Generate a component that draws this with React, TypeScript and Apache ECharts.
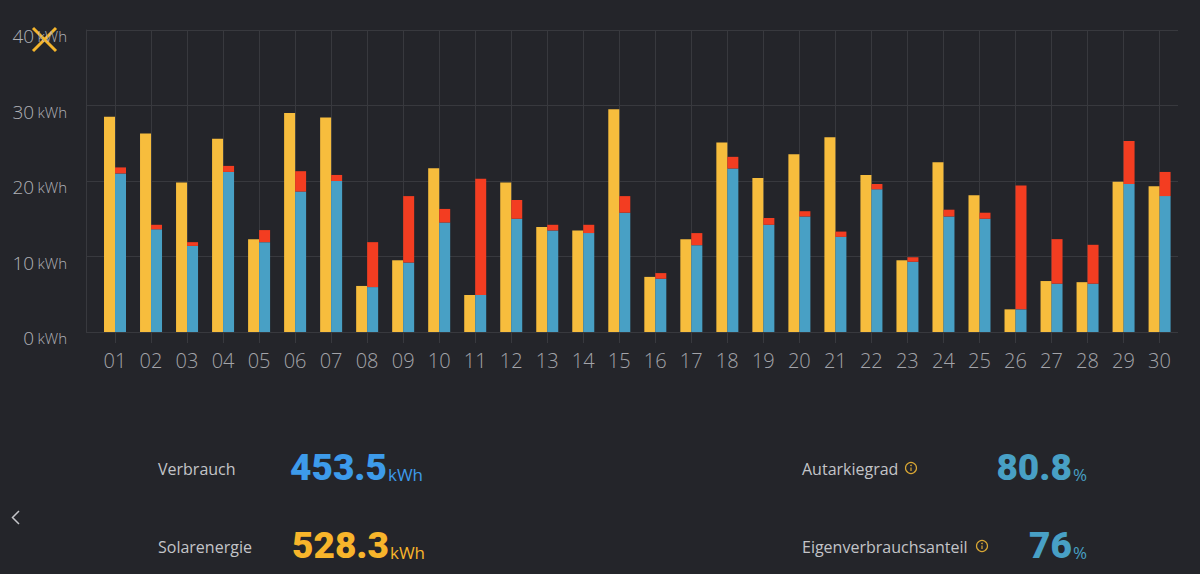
import React, { useEffect, useRef } from "react";
import * as echarts from "echarts";

// Daily energy figures (kWh)
const days = [
  "01", "02", "03", "04", "05", "06", "07", "08", "09", "10",
  "11", "12", "13", "14", "15", "16", "17", "18", "19", "20",
  "21", "22", "23", "24", "25", "26", "27", "28", "29", "30",
];
const solar = [
  28.5, 26.3, 19.8, 25.6, 12.3, 29.0, 28.4, 6.1, 9.5, 21.7,
  4.9, 19.8, 13.9, 13.45, 29.5, 7.3, 12.3, 25.1, 20.4, 23.55,
  25.8, 20.8, 9.5, 22.5, 18.1, 3.0, 6.75, 6.6, 19.9, 19.3,
];
const selfUse = [
  21.0, 13.6, 11.4, 21.2, 11.9, 18.6, 20.0, 5.95, 9.2, 14.5,
  4.9, 15.0, 13.45, 13.1, 15.8, 7.05, 11.5, 21.65, 14.2, 15.3,
  12.6, 18.9, 9.3, 15.3, 15.0, 3.0, 6.4, 6.4, 19.6, 18.0,
];
const consumption = [
  21.8, 14.2, 11.9, 22.0, 13.5, 21.3, 20.8, 11.9, 18.0, 16.3,
  20.3, 17.5, 14.2, 14.2, 18.0, 7.8, 13.1, 23.2, 15.1, 16.0,
  13.3, 19.6, 9.9, 16.2, 15.8, 19.4, 12.3, 11.55, 25.3, 21.2,
];
const yMax = 40;
const yStep = 10;
const unit = "kWh";

// Monthly summary
const totalConsumption = "453.5";
const totalSolar = "528.3";
const autarky = "80.8";
const selfConsumptionShare = "76";

const BG = "#24252a";
const GRID = "#38393e";
const YELLOW = "#f7bd3d";
const BLUE = "#48a0c5";
const RED = "#f33d21";
const FONT = "'Open Sans', 'Noto Sans', sans-serif";

// Grid import = consumption not covered by own solar
const gridImport = consumption.map((c, i) => Math.round((c - selfUse[i]) * 100) / 100);

function infoIcon(cx: number, cy: number) {
  return [
    { type: "circle", shape: { cx, cy, r: 5.5 }, style: { fill: "none", stroke: "#d9a734", lineWidth: 1.2 } },
    { type: "line", shape: { x1: cx, y1: cy - 0.5, x2: cx, y2: cy + 3 }, style: { stroke: "#d9a734", lineWidth: 1.2 } },
    { type: "circle", shape: { cx, cy: cy - 2.6, r: 0.8 }, style: { fill: "#d9a734" } },
  ];
}

function summaryValue(x: number, y: number, value: string, u: string, color: string, align: string) {
  return {
    type: "text",
    x,
    y,
    style: {
      text: `{n|${value}}{u|${u}}`,
      align,
      verticalAlign: "middle",
      rich: {
        n: { fontFamily: "Roboto, sans-serif", fontWeight: 900, fontSize: 37, fill: color, lineHeight: 40, verticalAlign: "bottom" },
        u: { fontFamily: FONT, fontSize: 17, fill: color, lineHeight: 40, verticalAlign: "bottom", padding: [0, 0, 3, 1] },
      },
    },
  };
}

function summaryLabel(x: number, y: number, text: string) {
  return {
    type: "text",
    x,
    y,
    style: { text, fontFamily: FONT, fontSize: 16, fill: "#c3c4c8", verticalAlign: "middle" },
  };
}

export default function App() {
  const ref = useRef<HTMLDivElement>(null);

  useEffect(() => {
    if (!ref.current) return;
    const chart = echarts.init(ref.current, undefined, { renderer: "svg" });
    const barCommon = { barWidth: 11, barGap: "0%", xAxisIndex: 1, yAxisIndex: 1 };

    chart.setOption({
      animation: false,
      backgroundColor: BG,
      grid: [
        // horizontal value grid
        { left: 86, top: 30, width: 1092, height: 302 },
        // category bands holding the bars
        { left: 97, top: 30, width: 1080.6, height: 302 },
        // day lines through the bar pairs
        { left: 115, top: 30, width: 1044.5, height: 302 },
      ],
      xAxis: [
        { type: "value", gridIndex: 0, min: 0, max: 1, show: false },
        { type: "category", gridIndex: 1, data: days, show: false },
        {
          type: "value",
          gridIndex: 2,
          min: 0,
          max: days.length - 1,
          interval: 1,
          axisLine: { show: false },
          axisTick: { show: true, length: 11, lineStyle: { color: GRID } },
          splitLine: { show: true, lineStyle: { color: GRID } },
          axisLabel: {
            formatter: (v: number) => days[v] ?? "",
            color: "#a3a4a9",
            fontFamily: FONT,
            fontSize: 20,
            fontWeight: 300,
            margin: 18,
          },
        },
      ],
      yAxis: [
        {
          type: "value",
          gridIndex: 0,
          min: 0,
          max: yMax,
          interval: yStep,
          axisLine: { show: true, lineStyle: { color: GRID } },
          axisTick: { show: false },
          splitLine: { show: true, lineStyle: { color: GRID } },
          axisLabel: {
            formatter: (v: number) => `{n|${v}} {u|${unit}}`,
            margin: 19,
            padding: [12, 0, 0, 0],
            rich: {
              n: { fontFamily: FONT, fontSize: 19, fontWeight: 300, color: "#b0b1b6" },
              u: { fontFamily: FONT, fontSize: 15, fontWeight: 300, color: "#b0b1b6" },
            },
          },
        },
        { type: "value", gridIndex: 1, min: 0, max: yMax, show: false },
        { type: "value", gridIndex: 2, min: 0, max: yMax, show: false },
      ],
      series: [
        { ...barCommon, name: "Solarenergie", type: "bar", itemStyle: { color: YELLOW }, data: solar },
        { ...barCommon, name: "Eigenverbrauch", type: "bar", stack: "use", itemStyle: { color: BLUE }, data: selfUse },
        { ...barCommon, name: "Netzbezug", type: "bar", stack: "use", itemStyle: { color: RED }, data: gridImport },
      ],
      graphic: [
        { type: "line", shape: { x1: 33, y1: 28, x2: 56, y2: 51 }, style: { stroke: "#f4b52c", lineWidth: 3 } },
        { type: "line", shape: { x1: 56, y1: 28, x2: 33, y2: 51 }, style: { stroke: "#f4b52c", lineWidth: 3 } },
        { type: "polyline", shape: { points: [[19, 511], [12.5, 517.5], [19, 524]] }, style: { stroke: "#c4c5c9", lineWidth: 1.5, fill: "none" } },
        summaryLabel(158, 469, "Verbrauch"),
        summaryLabel(158, 547, "Solarenergie"),
        summaryLabel(802, 469, "Autarkiegrad"),
        summaryLabel(802, 547, "Eigenverbrauchsanteil"),
        ...infoIcon(911, 468),
        ...infoIcon(982, 546),
        summaryValue(290, 466, totalConsumption, unit, "#3d9bea", "left"),
        summaryValue(292, 544, totalSolar, unit, "#f8b52b", "left"),
        summaryValue(1087, 466, autarky, "%", BLUE, "right"),
        summaryValue(1087, 544, selfConsumptionShare, "%", BLUE, "right"),
      ],
    });

    return () => chart.dispose();
  }, []);

  return (
    <div
      ref={ref}
      style={{ position: "fixed", left: 0, top: 0, width: 1200, height: 574, background: BG }}
    />
  );
}
